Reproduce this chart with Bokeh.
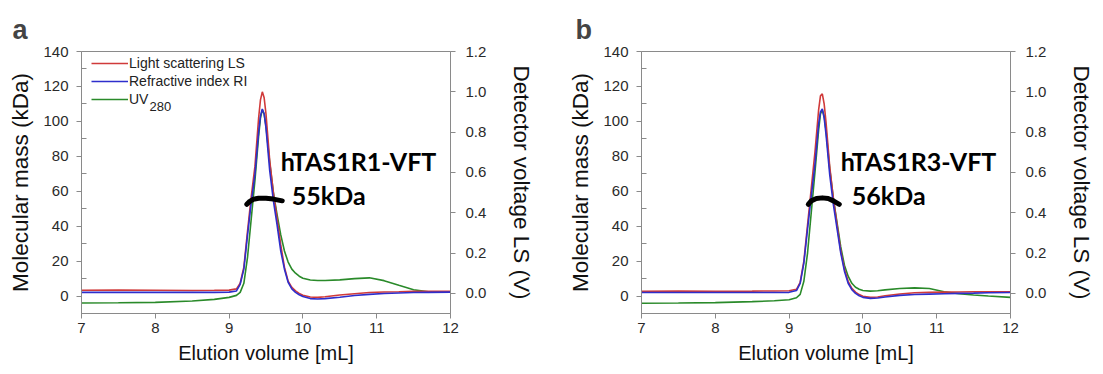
from bokeh.plotting import figure
from bokeh.models import (Range1d, LinearAxis, FixedTicker, Legend, LegendItem, ColumnDataSource,
                          NumeralTickFormatter, Label)
from bokeh.layouts import row
from bokeh.embed import file_html
from bokeh.resources import INLINE
from bokeh.core.properties import value

# ---------------- data ----------------
elution_ml = [7.0, 7.5, 8.0, 8.5, 8.8, 9.0, 9.1, 9.15, 9.2, 9.25, 9.3, 9.35, 9.4, 9.425, 9.45,
              9.475, 9.5, 9.55, 9.6, 9.65, 9.7, 9.75, 9.8, 9.85, 9.9, 9.95, 10.0, 10.1, 10.2,
              10.3, 10.5, 10.7, 10.9, 11.1, 11.3, 11.5, 11.7, 12.0]

# panel a (hTAS1R1-VFT), detector signals in V
ls_a = [0.015, 0.016, 0.015, 0.014, 0.015, 0.016, 0.022, 0.05, 0.13, 0.31, 0.48, 0.63, 0.87, 0.96, 1.0,
        0.97, 0.89, 0.66, 0.50, 0.37, 0.24, 0.13, 0.06, 0.03, 0.012, 0.0, -0.009, -0.018, -0.02,
        -0.017, -0.008, -0.002, 0.004, 0.007, 0.008, 0.01, 0.01, 0.01]
ri_a = [0.005, 0.005, 0.005, 0.005, 0.005, 0.006, 0.012, 0.045, 0.12, 0.29, 0.45, 0.59, 0.80, 0.88, 0.915,
        0.89, 0.82, 0.61, 0.46, 0.34, 0.21, 0.12, 0.055, 0.022, 0.005, -0.007, -0.016, -0.026, -0.028,
        -0.026, -0.019, -0.011, -0.005, -0.001, 0.002, 0.004, 0.005, 0.006]
uv_a = [-0.048, -0.047, -0.045, -0.038, -0.03, -0.02, -0.01, 0.005, 0.05, 0.18, 0.37, 0.56, 0.78, 0.87, 0.91,
        0.89, 0.83, 0.65, 0.50, 0.39, 0.29, 0.21, 0.155, 0.12, 0.10, 0.085, 0.075, 0.066, 0.064,
        0.064, 0.067, 0.073, 0.077, 0.063, 0.04, 0.018, 0.008, 0.006]

# panel b (hTAS1R3-VFT)
ls_b = [0.01, 0.012, 0.01, 0.011, 0.012, 0.013, 0.02, 0.055, 0.16, 0.34, 0.52, 0.70, 0.91, 0.98, 0.99,
        0.94, 0.85, 0.63, 0.47, 0.34, 0.21, 0.12, 0.06, 0.025, 0.006, -0.006, -0.014, -0.02, -0.018,
        -0.012, -0.003, 0.003, 0.005, 0.006, 0.007, 0.008, 0.008, 0.008]
ri_b = [0.004, 0.004, 0.004, 0.004, 0.004, 0.005, 0.014, 0.05, 0.15, 0.32, 0.48, 0.64, 0.84, 0.90, 0.915,
        0.87, 0.79, 0.59, 0.44, 0.32, 0.20, 0.11, 0.05, 0.018, 0.0, -0.012, -0.02, -0.025, -0.023,
        -0.018, -0.01, -0.006, -0.004, -0.002, 0.0, 0.001, 0.003, 0.004]
uv_b = [-0.049, -0.048, -0.046, -0.041, -0.037, -0.032, -0.022, -0.005, 0.06, 0.2, 0.4, 0.6, 0.81, 0.89, 0.91,
        0.88, 0.81, 0.62, 0.47, 0.35, 0.23, 0.14, 0.085, 0.05, 0.03, 0.02, 0.014, 0.011, 0.013,
        0.017, 0.024, 0.027, 0.024, 0.008, -0.002, -0.008, -0.013, -0.02]

# molar mass across the peak (kDa)
mass_x_a = [9.24, 9.28, 9.33, 9.40, 9.50, 9.60, 9.72]
mass_y_a = [52.5, 54.2, 55.4, 56.0, 56.0, 55.5, 54.5]
mass_x_b = [9.26, 9.30, 9.37, 9.45, 9.53, 9.60, 9.68]
mass_y_b = [52.5, 54.5, 55.8, 56.2, 55.8, 54.5, 52.5]

names = ["hTAS1R1-VFT", "hTAS1R3-VFT"]
masses = ["55kDa", "56kDa"]
panel_letters = ["a", "b"]
series_labels = ["Light scattering LS", "Refractive index RI", "UV"]
uv_subscript = "280"

x_ticks = [7, 8, 9, 10, 11, 12]
left_ticks = [0, 20, 40, 60, 80, 100, 120, 140]
left_minor = [-10, 10, 30, 50, 70, 90, 110, 130]
right_ticks = [0.0, 0.2, 0.4, 0.6, 0.8, 1.0, 1.2]

RED = "#d03a3a"
BLUE = "#2e2ecc"
GREEN = "#2a8a2a"
AXC = "#8a8a8a"
FONT = "Liberation Sans"


def make_panel(letter, title_off, ls, ri, uv, mx, my, name, mass, border_left, width, legend):
    p = figure(width=width, height=366, output_backend="svg", toolbar_location=None,
               x_range=Range1d(7, 12), y_range=Range1d(-10, 140),
               min_border_left=border_left, min_border_right=width - border_left - 369,
               min_border_top=51, min_border_bottom=53)
    p.extra_y_ranges = {"v": Range1d(-0.1, 1.2)}
    p.grid.visible = False
    p.outline_line_color = AXC
    p.background_fill_color = "white"
    p.border_fill_color = "white"

    p.title.text = letter
    p.title.text_font = "Arial"
    p.title.text_font_size = "27px"
    p.title.text_font_style = "bold"
    p.title.offset = title_off
    p.title.standoff = 13

    xa = p.xaxis[0]
    xa.ticker = FixedTicker(ticks=x_ticks)
    xa.axis_label = "Elution volume [mL]"
    ya = p.yaxis[0]
    ya.ticker = FixedTicker(ticks=left_ticks, minor_ticks=left_minor)
    ya.axis_label = "Molecular mass (kDa)"
    ra = LinearAxis(y_range_name="v", ticker=FixedTicker(ticks=right_ticks),
                    formatter=NumeralTickFormatter(format="0.0"),
                    axis_label="Detector voltage LS (V)")
    p.add_layout(ra, "right")

    for ax in (xa, ya, ra):
        ax.axis_line_color = AXC
        ax.major_tick_line_color = AXC
        ax.minor_tick_line_color = AXC
        ax.major_tick_out = 5
        ax.major_tick_in = 0
        ax.minor_tick_out = 0
        ax.minor_tick_in = 5
        ax.major_label_text_font = FONT
        ax.major_label_text_font_size = "15px"
        ax.major_label_text_color = "#2a2a2a"
        ax.axis_label_text_font = FONT
        ax.axis_label_text_font_style = "normal"
        ax.axis_label_text_color = "#111111"
    xa.minor_tick_line_color = None
    ra.minor_tick_line_color = None
    xa.axis_label_text_font_size = "20px"
    ya.axis_label_text_font_size = "22.5px"
    ra.axis_label_text_font_size = "22.5px"
    xa.major_label_standoff = 4
    xa.axis_label_standoff = 6
    ya.major_label_standoff = 8
    ya.axis_label_standoff = 7
    ra.major_label_standoff = 10
    ra.axis_label_standoff = 20

    src = ColumnDataSource(dict(x=elution_ml, ls=ls, ri=ri, uv=uv))
    r_uv = p.line("x", "uv", source=src, y_range_name="v", line_color=GREEN, line_width=1.6)
    r_ls = p.line("x", "ls", source=src, y_range_name="v", line_color=RED, line_width=1.6)
    r_ri = p.line("x", "ri", source=src, y_range_name="v", line_color=BLUE, line_width=1.6)

    p.line(mx, my, line_color="black", line_width=5, line_cap="round", line_join="round")

    ann = ColumnDataSource(dict(x=[9.70, 9.85], y=[77.3, 57.6], t=[name, mass]))
    p.text("x", "y", text="t", source=ann, text_font=value("Lato"), text_font_style="bold",
           text_font_size="25px", text_color="black", text_align="left", text_baseline="alphabetic")

    if legend:
        items = [LegendItem(label=series_labels[0], renderers=[r_ls]),
                 LegendItem(label=series_labels[1], renderers=[r_ri]),
                 LegendItem(label=series_labels[2], renderers=[r_uv])]
        lg = Legend(items=items, location=(10, 205), margin=0, padding=0, spacing=0,
                    glyph_width=37, glyph_height=18, label_height=18, label_standoff=1,
                    label_text_font=FONT, label_text_font_size="14px",
                    label_text_color="#222222",
                    border_line_alpha=0, background_fill_alpha=0)
        p.add_layout(lg, "center")
        sub = Label(x=68, y=207, x_units="screen", y_units="screen", text=uv_subscript,
                    text_font=FONT, text_font_size="13px", text_color="#222222",
                    text_baseline="alphabetic", text_align="left")
        p.add_layout(sub)
    return p


pa = make_panel(panel_letters[0], -69, ls_a, ri_a, uv_a, mass_x_a, mass_y_a, names[0], masses[0], 81, 560, True)
pb = make_panel(panel_letters[1], -66, ls_b, ri_b, uv_b, mass_x_b, mass_y_b, names[1], masses[1], 81, 543, False)

layout = row(pa, pb)
open("out.html", "w").write(file_html(layout, INLINE))
